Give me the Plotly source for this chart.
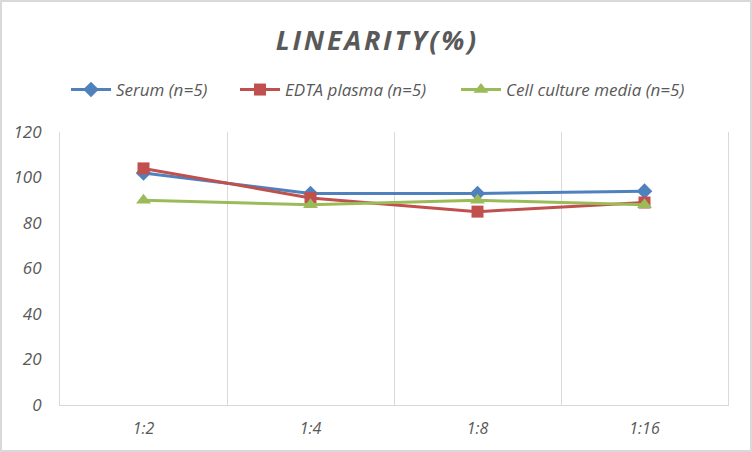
import plotly.graph_objects as go

# ---------------------------------------------------------------------------
# Data
# ---------------------------------------------------------------------------
DILUTIONS = ["1:2", "1:4", "1:8", "1:16"]
SERUM = [102, 93, 93, 94]
EDTA_PLASMA = [104, 91, 85, 89]
CELL_CULTURE = [90, 88, 90, 88]

SERIES_NAMES = ["Serum (n=5)", "EDTA plasma (n=5)", "Cell culture media (n=5)"]
Y_TICKS = [0, 20, 40, 60, 80, 100, 120]

# ---------------------------------------------------------------------------
# Style
# ---------------------------------------------------------------------------
FONT = "Open Sans, sans-serif"
TEXT_GREY = "#595959"
GRID_GREY = "#D9D9D9"
W, H = 752, 452
M_L, M_R, M_T, M_B = 60, 24, 132, 47

# one legend per series so the entries can be spaced like the Excel original
series = [
    (SERIES_NAMES[0], SERUM, "#4F81BD", "diamond", 12, "legend", 66),
    (SERIES_NAMES[1], EDTA_PLASMA, "#C0504D", "square", 12, "legend2", 235),
    (SERIES_NAMES[2], CELL_CULTURE, "#9BBB59", "triangle-up", 13, "legend3", 456),
]

fig = go.Figure()
for name, vals, color, symbol, size, leg, _ in series:
    fig.add_trace(
        go.Scatter(
            x=DILUTIONS,
            y=vals,
            name=name,
            mode="lines+markers",
            line=dict(color=color, width=3),
            marker=dict(symbol=symbol, size=size, color=color),
            legend=leg,
        )
    )

# light grey frame around the whole chart (pixel -> paper coords)
pw, ph = W - M_L - M_R, H - M_T - M_B
fig.add_shape(
    type="rect",
    xref="paper",
    yref="paper",
    x0=(1 - M_L) / pw,
    x1=(W - 1 - M_L) / pw,
    y0=(H - M_B - (H - 1)) / ph,
    y1=(H - M_B - 1) / ph,
    line=dict(color=GRID_GREY, width=2),
    layer="below",
)

# Excel-style spaced title (hair spaces between letters)
title_text = "\u200a".join("LINEARITY(%)")

legend_style = dict(
    orientation="h",
    xref="container",
    yref="container",
    xanchor="left",
    y=1 - 90 / H,
    yanchor="middle",
    font=dict(size=17, color=TEXT_GREY, family=FONT, style="italic"),
    itemwidth=40,
)

fig.update_layout(
    width=W,
    height=H,
    margin=dict(l=M_L, r=M_R, t=M_T, b=M_B, autoexpand=False),
    paper_bgcolor="white",
    plot_bgcolor="white",
    font=dict(family=FONT, color=TEXT_GREY),
    title=dict(
        text=f"<b><i>{title_text}</i></b>",
        xref="container",
        x=0.5,
        xanchor="center",
        y=1 - 41 / H,
        yanchor="middle",
        font=dict(size=27, color=TEXT_GREY, family=FONT),
    ),
    legend=dict(x=series[0][6] / W, **legend_style),
    legend2=dict(x=series[1][6] / W, **legend_style),
    legend3=dict(x=series[2][6] / W, **legend_style),
    showlegend=True,
)

fig.update_xaxes(
    type="category",
    range=[-0.5, 3.5],
    tickson="boundaries",
    showgrid=True,
    gridcolor=GRID_GREY,
    gridwidth=1,
    showline=True,
    linecolor=GRID_GREY,
    linewidth=1,
    ticks="",
    tickfont=dict(size=16, color=TEXT_GREY, style="italic"),
    ticklabelstandoff=9,
)
fig.update_yaxes(
    range=[0, 120],
    tickvals=Y_TICKS,
    showgrid=False,
    zeroline=False,
    showline=True,
    mirror=True,
    linecolor=GRID_GREY,
    linewidth=1,
    ticks="",
    tickfont=dict(size=17, color=TEXT_GREY, style="italic"),
    ticklabelstandoff=14,
)

# the page would otherwise add the browser's default 8px body margin
fig.write_html(
    "out.html",
    config={"displayModeBar": False},
    post_script="document.body.style.margin='0';",
)
